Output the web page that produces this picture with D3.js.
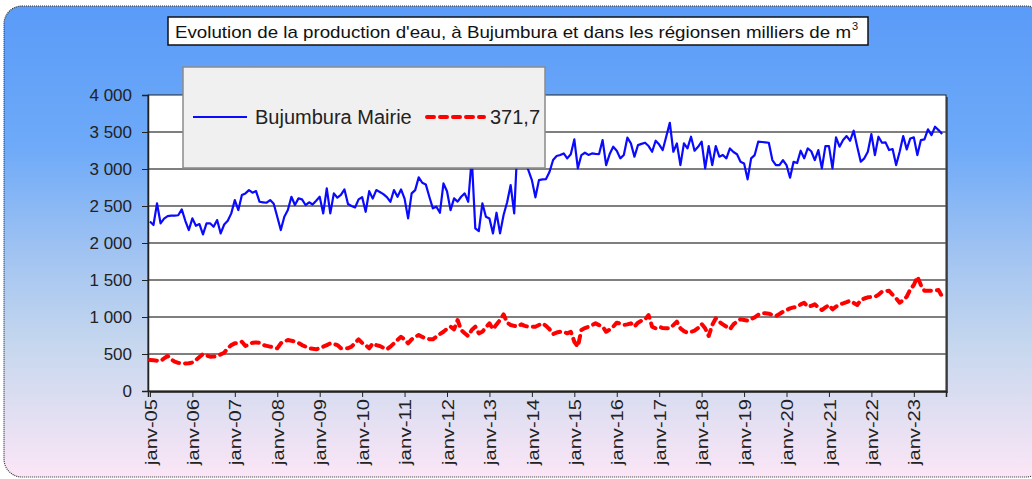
<!DOCTYPE html>
<html><head><meta charset="utf-8">
<script src="https://cdn.jsdelivr.net/npm/d3@7"></script>
<style>html,body{margin:0;padding:0;background:#fff;}svg{display:block;font-family:"Liberation Sans",Arial,sans-serif;}</style>
</head><body>
<script>
const startYear = 2005;
const seriesNames = ["Bujumbura Mairie", "371,7"];
const xTickLabels = ["janv-05","janv-06","janv-07","janv-08","janv-09","janv-10","janv-11","janv-12","janv-13","janv-14","janv-15","janv-16","janv-17","janv-18","janv-19","janv-20","janv-21","janv-22","janv-23"];
const yTickValues = [0,500,1000,1500,2000,2500,3000,3500,4000];
const yTickLabels = ["0","500","1 000","1 500","2 000","2 500","3 000","3 500","4 000"];
const bujumbura = [
2290,2243,2536,2266,2330,2364,2370,2370,2375,2455,2300,2175,
2333,2233,2256,2117,2266,2266,2220,2310,2130,2250,2300,2400,
2580,2445,2648,2670,2715,2680,2702,2557,2550,2544,2580,2530,
2355,2175,2355,2445,2625,2513,2603,2590,2513,2550,2520,2571,
2625,2400,2738,2400,2670,2612,2650,2724,2526,2500,2480,2590,
2620,2422,2700,2600,2715,2690,2661,2620,2557,2715,2625,2724,
2600,2333,2670,2715,2887,2814,2792,2625,2468,2490,2409,2805,
2700,2445,2603,2560,2625,2670,2557,3150,2198,2162,2536,2355,
2330,2130,2409,2130,2378,2550,2783,2400,3400,3250,3100,2985,
2850,2617,2850,2860,2864,2963,3121,3175,3190,3211,3144,3200,
3400,3009,3188,3220,3190,3211,3205,3202,3391,3053,3202,3301,
3247,3144,3190,3423,3346,3166,3323,3340,3355,3310,3233,3382,
3330,3256,3440,3625,3233,3346,3053,3346,3278,3436,3247,3300,
3369,3009,3310,3053,3310,3166,3190,3144,3278,3230,3200,3098,
3076,2860,3144,3188,3369,3365,3360,3355,3121,3053,3053,3121,
3053,2882,3098,3080,3247,3144,3278,3240,3121,3256,3009,3310,
3310,3009,3427,3301,3391,3445,3382,3517,3300,3098,3144,3233,
3472,3188,3436,3355,3360,3256,3270,3053,3233,3445,3265,3413,
3427,3188,3391,3400,3535,3458,3571,3526,3472];
const regions = [
419,415,410,405,440,473,430,396,380,376,372,374,
385,419,460,500,480,463,465,473,495,517,580,620,
644,650,666,608,630,653,655,650,621,610,599,590,
577,644,670,689,680,666,650,621,600,577,570,563,
580,599,620,644,635,621,577,577,577,599,650,698,
650,621,577,644,620,608,585,563,600,644,690,733,
698,644,698,730,757,730,712,700,698,733,770,801,
840,869,834,959,824,780,743,824,869,779,801,860,
914,834,900,960,1036,923,892,880,869,901,880,869,
869,869,892,914,880,834,770,790,800,801,779,801,
666,599,824,850,869,890,914,890,869,801,830,869,
923,910,892,900,914,869,923,950,968,1027,869,847,
869,850,847,847,890,936,847,810,788,800,815,850,
905,847,743,892,982,936,900,869,834,900,940,968,
960,950,975,996,1030,1050,1050,1045,1030,1013,1040,1071,
1095,1117,1130,1139,1170,1193,1139,1150,1171,1130,1094,1130,
1162,1104,1140,1170,1184,1200,1220,1190,1162,1229,1250,1266,
1270,1274,1300,1342,1350,1355,1300,1252,1193,1230,1274,1374,
1432,1544,1432,1355,1355,1355,1360,1364,1274];

const W = 1032, H = 479;
const svg = d3.select("body").append("svg").attr("width", W).attr("height", H);
const defs = svg.append("defs");
const grad = defs.append("linearGradient").attr("id","bg").attr("x1",0).attr("y1",0).attr("x2",0).attr("y2",1);
[[0,"#5a9bf9"],[0.3,"#6eaaf8"],[0.55,"#a6c6f1"],[0.72,"#c6d7ee"],[1,"#fbe6f6"]].forEach(s=>grad.append("stop").attr("offset",s[0]).attr("stop-color",s[1]));

svg.append("rect").attr("x",4).attr("y",6).attr("width",1040).attr("height",471).attr("rx",18)
  .attr("fill","url(#bg)").attr("stroke","#333").attr("stroke-width",1.2).attr("stroke-dasharray","1,1");

const m = {left:148, right:946, top:95, bottom:391};
const x = d3.scaleLinear().domain([-0.55, 225.1]).range([m.left, m.right]);
const y = d3.scaleLinear().domain([0, 4000]).range([m.bottom, m.top]);

// plot area
svg.append("rect").attr("x",m.left+2).attr("y",m.top+2).attr("width",m.right-m.left).attr("height",m.bottom-m.top).attr("fill","#555");
svg.append("rect").attr("x",m.left).attr("y",m.top).attr("width",m.right-m.left).attr("height",m.bottom-m.top).attr("fill","#fff").attr("stroke","#222").attr("stroke-width",1);

// gridlines
svg.append("g").selectAll("line").data(yTickValues.filter(v=>v>0 && v<4000)).join("line")
  .attr("x1",m.left).attr("x2",m.right).attr("y1",d=>y(d)).attr("y2",d=>y(d))
  .attr("stroke","#555").attr("stroke-width",1.6);

// y axis
const yAxis = d3.axisLeft(y).tickValues(yTickValues).tickSize(6).tickPadding(10)
  .tickFormat((d,i)=>yTickLabels[i]);
const gy = svg.append("g").attr("transform",`translate(${m.left},0)`).call(yAxis);
gy.select(".domain").attr("stroke","#222").attr("stroke-width",1.5);
gy.selectAll(".tick line").attr("stroke","#222");
gy.selectAll(".tick text").attr("font-size",17).attr("fill","#222").attr("font-family","Liberation Sans, Arial, sans-serif");

// x axis
const xTicks = xTickLabels.map((d,i)=>i*12);
const xAxis = d3.axisBottom(x).tickValues(xTicks).tickSize(6).tickFormat((d,i)=>xTickLabels[i]);
const gx = svg.append("g").attr("transform",`translate(0,${m.bottom})`).call(xAxis);
gx.select(".domain").attr("stroke","#222").attr("stroke-width",1.5);
gx.selectAll(".tick line").attr("stroke","#222");
gx.selectAll(".tick text").attr("font-size",17).attr("fill","#222").attr("font-family","Liberation Sans, Arial, sans-serif")
  .attr("transform","rotate(-90)").attr("text-anchor","end").attr("dy","0.36em").attr("x",-8).attr("y",0)
  .attr("textLength",66).attr("lengthAdjust","spacingAndGlyphs");

// lines
const line = d3.line().x((d,i)=>x(i)).y(d=>y(d));
svg.append("path").datum(bujumbura).attr("d",line).attr("fill","none").attr("stroke","#0a0aff").attr("stroke-width",2.2).attr("stroke-linejoin","round");
svg.append("path").datum(regions).attr("d",line).attr("fill","none").attr("stroke","#ff0000").attr("stroke-width",4)
  .attr("stroke-dasharray","7,6").attr("stroke-linecap","round").attr("stroke-linejoin","round");

// legend
const lg = svg.append("g");
lg.append("rect").attr("x",183).attr("y",67).attr("width",362).attr("height",101).attr("fill","#f0f0f0").attr("stroke","#8a8a8a").attr("stroke-width",1.5);
lg.append("line").attr("x1",193).attr("x2",247).attr("y1",117).attr("y2",117).attr("stroke","#0a0aff").attr("stroke-width",2.2);
lg.append("text").attr("x",255).attr("y",124).attr("font-size",20).attr("fill","#222").text(seriesNames[0]);
lg.append("line").attr("x1",427).attr("x2",484).attr("y1",117).attr("y2",117).attr("stroke","#ff0000").attr("stroke-width",4)
  .attr("stroke-dasharray","7,6").attr("stroke-linecap","round");
lg.append("text").attr("x",490).attr("y",124).attr("font-size",20).attr("fill","#222").text(seriesNames[1]);

// title
const tg = svg.append("g");
tg.append("rect").attr("x",168).attr("y",17).attr("width",700).attr("height",28).attr("fill","#fff").attr("stroke","#111").attr("stroke-width",1.5);
tg.append("text").attr("x",175).attr("y",38).attr("font-size",17).attr("fill","#111")
  .attr("textLength",676).attr("lengthAdjust","spacingAndGlyphs")
  .text("Evolution de la production d'eau, à Bujumbura et dans les régionsen milliers de m");
tg.append("text").attr("x",852).attr("y",30).attr("font-size",11).attr("fill","#111").text("3");
</script>
</body></html>
